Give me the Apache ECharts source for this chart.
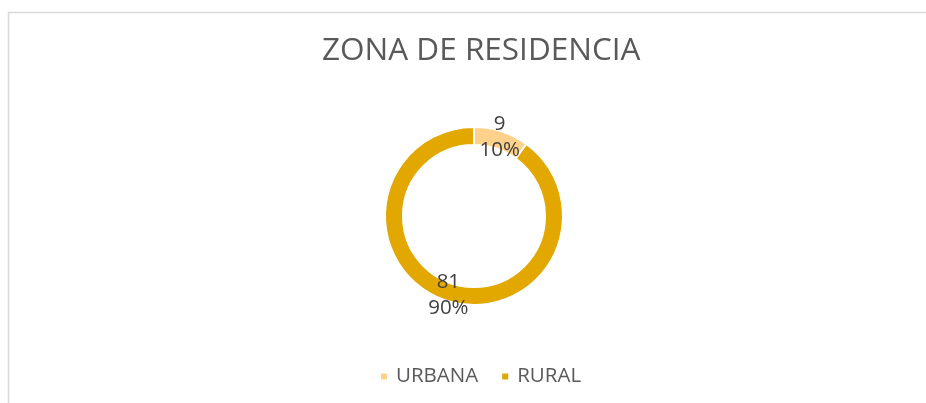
<!DOCTYPE html>
<html>
<head>
<meta charset="utf-8">
<script src="https://cdn.jsdelivr.net/npm/echarts@6/dist/echarts.min.js"></script>
<style>
  html, body { margin: 0; padding: 0; background: #fff; }
  #chart { width: 926px; height: 403px; }
</style>
</head>
<body>
<div id="chart"></div>
<script>
// datos del gráfico
const categories = ['URBANA', 'RURAL'];
const values = [9, 81];
const colors = ['#FFD18A', '#E2A800'];
const chartTitle = 'ZONA DE RESIDENCIA';

const chart = echarts.init(document.getElementById('chart'));
const pieData = categories.map((name, i) => ({
  name: name,
  value: values[i],
  itemStyle: { color: colors[i] }
}));

const option = {
  animation: false,
  backgroundColor: '#fff',
  graphic: [
    {
      type: 'rect',
      shape: { x: 8.5, y: 12.5, width: 940, height: 420 },
      style: { fill: 'none', stroke: '#d9d9d9', lineWidth: 1.5 },
      silent: true
    }
  ],
  title: {
    text: chartTitle,
    left: 322,
    top: 35,
    padding: 0,
    textStyle: {
      fontFamily: 'Open Sans',
      fontSize: 31.5,
      fontWeight: 'normal',
      color: '#595959'
    }
  },
  legend: {
    bottom: 11,
    left: 374,
    itemWidth: 8,
    itemHeight: 8,
    itemGap: 22,
    icon: 'rect',
    textStyle: {
      fontFamily: 'Open Sans',
      fontSize: 20.5,
      color: '#595959',
      padding: [0, 0, 0, 3]
    },
    data: categories
  },
  series: [
    {
      name: chartTitle,
      type: 'pie',
      radius: [71, 89],
      center: [474, 216],
      startAngle: 90,
      clockwise: true,
      itemStyle: { borderColor: '#fff', borderWidth: 2 },
      label: {
        show: true,
        position: 'inside',
        formatter: '{c}\n{d}%',
        fontFamily: 'Open Sans',
        fontSize: 20.5,
        lineHeight: 26,
        color: '#404040'
      },
      labelLine: { show: false },
      emphasis: { disabled: true },
      data: pieData
    }
  ]
};
chart.setOption(option);
</script>
</body>
</html>
